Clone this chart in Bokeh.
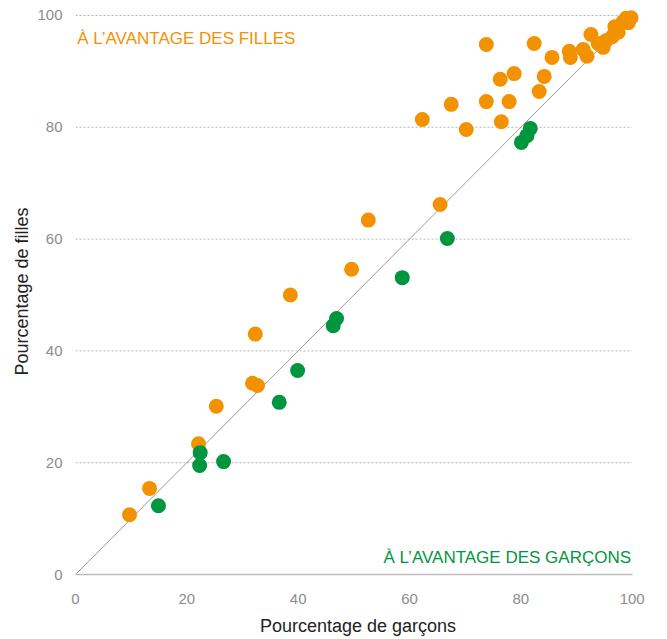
from bokeh.plotting import figure
from bokeh.models import Range1d, FixedTicker, Label
from bokeh.embed import file_html
from bokeh.resources import INLINE

# Data: percentage of boys (x) vs percentage of girls (y)
filles_x = [9.7, 13.3, 22.1, 25.3, 31.8, 32.7, 32.3, 38.6, 49.6, 52.6, 65.5,
            62.3, 67.5, 70.2, 73.8, 73.8, 76.3, 76.5, 78.8, 77.9, 82.4, 85.6,
            84.2, 83.3,
            88.7, 88.9, 91.2, 91.9, 92.6, 93.9, 94.8, 95.3, 96.4, 96.9, 97.5,
            98.4, 99.3, 99.8, 98.9]
filles_y = [10.7, 15.4, 23.4, 30.1, 34.2, 33.8, 43.0, 50.0, 54.6, 63.4, 66.2,
            81.4, 84.1, 79.6, 94.8, 84.6, 88.6, 81.0, 89.6, 84.6, 95.0, 92.5,
            89.1, 86.4,
            93.6, 92.5, 93.9, 92.7, 96.6, 95.0, 94.3, 95.5, 96.2, 98.0, 97.0,
            98.9, 98.7, 99.6, 99.5]

garcons_x = [14.9, 22.4, 22.3, 26.6, 36.6, 39.9, 46.3, 46.9, 58.7, 66.8,
             80.1, 81.1, 81.7]
garcons_y = [12.3, 21.8, 19.5, 20.2, 30.8, 36.5, 44.5, 45.8, 53.1, 60.1,
             77.3, 78.5, 79.8]

ticks = [0, 20, 40, 60, 80, 100]
diag = [0, 100]

ORANGE = "#F39200"
GREEN = "#00963F"
TICK_COLOR = "#8c8c8c"
FONT = "Liberation Sans"

p = figure(width=660, height=639,
           x_range=Range1d(0, 101.5), y_range=Range1d(0, 101.25),
           output_backend="svg", toolbar_location=None,
           min_border_left=75, min_border_right=20,
           min_border_top=8, min_border_bottom=65)
p.outline_line_color = None
p.grid.visible = False
p.background_fill_color = "white"
p.border_fill_color = "white"

# dashed horizontal gridlines from 0 to 100
grid_y = ticks[1:]
p.segment(x0=[ticks[0]] * len(grid_y), x1=[ticks[-1]] * len(grid_y),
          y0=grid_y, y1=grid_y, line_color="#b5b5b5", line_width=1,
          line_dash="2 2")

# diagonal y = x
p.line(diag, diag, line_color="#9a9a9a", line_width=1)

p.scatter(filles_x, filles_y, size=15, fill_color=ORANGE, line_color=None)
p.scatter(garcons_x, garcons_y, size=15, fill_color=GREEN, line_color=None)

for ax in (p.xaxis[0], p.yaxis[0]):
    ax.ticker = FixedTicker(ticks=ticks)
    ax.major_tick_line_color = None
    ax.minor_tick_line_color = None
    ax.major_label_text_color = TICK_COLOR
    ax.major_label_text_font = FONT
    ax.major_label_text_font_size = "15px"
    ax.axis_label_text_font = FONT
    ax.axis_label_text_font_size = "18px"
    ax.axis_label_text_font_style = "normal"
    ax.axis_label_text_color = "#222222"

p.xaxis.bounds = (0, 100)
p.xaxis.axis_line_color = "#bdbdbd"
p.xaxis.axis_line_width = 1.5
p.xaxis.major_label_standoff = 13
p.xaxis.axis_label = "Pourcentage de garçons"
p.xaxis.axis_label_standoff = 9

p.yaxis.axis_line_color = None
p.yaxis.major_label_standoff = 7
p.yaxis.axis_label = "Pourcentage de filles"
p.yaxis.axis_label_standoff = 2

p.add_layout(Label(x=0.3, y=95.9, text="À L’AVANTAGE DES FILLES",
                   text_color=ORANGE, text_font=FONT, text_font_size="17px",
                   text_baseline="middle", text_align="left"))
p.add_layout(Label(x=99.8, y=3.0, text="À L’AVANTAGE DES GARÇONS",
                   text_color=GREEN, text_font=FONT, text_font_size="17px",
                   text_baseline="middle", text_align="right"))

open("out.html", "w").write(file_html(p, INLINE))
